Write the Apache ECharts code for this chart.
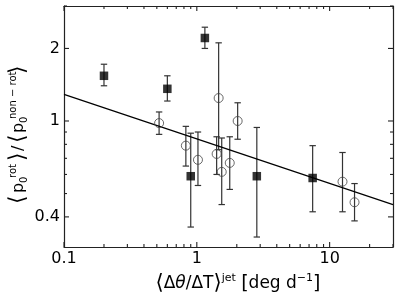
<!DOCTYPE html>
<html><head><meta charset="utf-8">
<script src="https://cdn.jsdelivr.net/npm/echarts@6/dist/echarts.min.js"></script>
<style>html,body{margin:0;padding:0;background:#fff}#c{width:399px;height:301px}</style>
</head><body><div id="c"></div>
<script>
// Filled squares
const sqX  = [0.2, 0.6, 1.15, 0.9, 2.83, 7.45];
const sqY  = [1.54, 1.36, 2.21, 0.59, 0.59, 0.58];
const sqLo = [1.40, 1.21, 2.0, 0.363, 0.33, 0.42];
const sqHi = [1.72, 1.54, 2.45, 0.89, 0.94, 0.79];
// Open circles
const ciX  = [0.52, 0.827, 1.02, 1.41, 1.46, 1.54, 1.77, 2.03, 12.5, 15.4];
const ciY  = [0.98, 0.79, 0.69, 0.73, 1.245, 0.615, 0.67, 1.0, 0.56, 0.46];
const ciLo = [0.88, 0.65, 0.54, 0.60, 0.76, 0.45, 0.52, 0.84, 0.42, 0.385];
const ciHi = [1.09, 0.95, 0.90, 0.86, 2.11, 0.85, 0.86, 1.19, 0.74, 0.55];
// Fit line
const fitX = [0.1, 30];
const fitY = [1.29, 0.45];
// Ticks and tick labels
const xMajor = [0.1, 1, 10];
const xMinor = [0.2,0.3,0.4,0.5,0.6,0.7,0.8,0.9,2,3,4,5,6,7,8,9,20,30];
const yMajor = [0.4, 1, 2];
const yMinor = [0.5,0.6,0.7,0.8,0.9,3];

const FONT = 'DejaVu Sans';
const LINE = {show:true, onZero:false, lineStyle:{color:'#222', width:1.2}};
const fmt = v => String(+(+v).toPrecision(3));
function xAx(pos, labels){
  return {type:'log', min:0.1, max:30, position:pos, axisLine:LINE, splitLine:{show:false}, axisTick:{show:false},
    axisLabel:{show:!!labels, customValues:labels || xMajor, margin:4, fontFamily:FONT, fontSize:16, color:'#000', formatter:fmt}};
}
function yAx(pos, labels){
  return {type:'log', min:0.3, max:3, position:pos, axisLine:LINE, splitLine:{show:false}, axisTick:{show:false},
    axisLabel:{show:!!labels, customValues:labels || yMajor, margin:4, fontFamily:FONT, fontSize:16, color:'#000', formatter:fmt}};
}

function errItem(params, api){
  const x = api.value(0), lo = api.value(1), hi = api.value(2);
  const a = api.coord([x, lo]), b = api.coord([x, hi]);
  const w = 3.2, st = {stroke:'#333', lineWidth:1.2};
  return {type:'group', children:[
    {type:'line', shape:{x1:a[0],y1:a[1],x2:b[0],y2:b[1]}, style:st},
    {type:'line', shape:{x1:a[0]-w,y1:a[1],x2:a[0]+w,y2:a[1]}, style:st},
    {type:'line', shape:{x1:b[0]-w,y1:b[1],x2:b[0]+w,y2:b[1]}, style:st}
  ]};
}
// inward ticks on all four sides, positioned via the axes' scales
const tst = {stroke:'#222', lineWidth:1.1};
function xTick(len){
  return function(params, api){
    const v = api.value(0);
    const b = api.coord([v, 0.3]), t = api.coord([v, 3]);
    return {type:'group', children:[
      {type:'line', shape:{x1:b[0], y1:b[1], x2:b[0], y2:b[1]-len}, style:tst},
      {type:'line', shape:{x1:t[0], y1:t[1], x2:t[0], y2:t[1]+len}, style:tst}]};
  };
}
function yTick(len){
  return function(params, api){
    const v = api.value(1);
    const l = api.coord([0.1, v]), r = api.coord([30, v]);
    return {type:'group', children:[
      {type:'line', shape:{x1:l[0], y1:l[1], x2:l[0]+len, y2:l[1]}, style:tst},
      {type:'line', shape:{x1:r[0], y1:r[1], x2:r[0]-len, y2:r[1]}, style:tst}]};
  };
}
function tickSeries(render, data){
  return {type:'custom', xAxisIndex:0, yAxisIndex:0, renderItem:render, encode:{x:0, y:1},
    silent:true, z:6, data:data};
}

const chart = echarts.init(document.getElementById('c'), null, {renderer:'canvas'});
const yl = [
  {t:'⟨', x:-1, y:-6, f:22},
  {t:'p', x:10, y:-5, f:16},
  {t:'0', x:20, y:0, f:10},
  {t:'rot', x:25, y:-11, f:10},
  {t:'⟩', x:42, y:-6, f:22},
  {t:'/', x:52, y:-5, f:16},
  {t:'⟨', x:60, y:-6, f:22},
  {t:'p', x:70, y:-5, f:16},
  {t:'0', x:80, y:0, f:10},
  {t:'non − rot', x:84, y:-11, f:10},
  {t:'⟩', x:129, y:-6, f:22}
];
chart.setOption({
  animation:false,
  grid:{left:64, right:6, top:6, bottom:54},
  xAxis:[xAx('bottom', xMajor), xAx('top', null)],
  yAxis:[yAx('left', yMajor), yAx('right', null)],
  graphic:[
    {type:'group', x:24, y:203, rotation:Math.PI/2, children: yl.map(e=>({type:'text', x:e.x, y:e.y,
      style:{text:e.t, fontFamily:FONT, fontSize:e.f, fill:'#000', align:'left', verticalAlign:'middle'}}))},
    {type:'text', x:238, y:284, style:{
      text:'{b|⟨}{m|Δ}{i|θ}{m|/ΔT}{b|⟩}{s|jet}{m| }{k|[}{m|deg d}{s|−1}{k|]}',
      align:'center', verticalAlign:'middle', fill:'#000',
      rich:{
        b:{fontFamily:FONT, fontSize:21, lineHeight:22, verticalAlign:'middle'},
        k:{fontFamily:FONT, fontSize:19, lineHeight:22, verticalAlign:'middle'},
        m:{fontFamily:FONT, fontSize:17, lineHeight:22, verticalAlign:'middle'},
        i:{fontFamily:FONT, fontSize:17, fontStyle:'italic', lineHeight:22, verticalAlign:'middle'},
        s:{fontFamily:FONT, fontSize:11, lineHeight:14, verticalAlign:'top'}
      }}}
  ],
  series:[
    tickSeries(xTick(5), xMajor.map(v=>[v, 1])),
    tickSeries(xTick(3), xMinor.map(v=>[v, 1])),
    tickSeries(yTick(5), yMajor.map(v=>[1, v])),
    tickSeries(yTick(3), yMinor.map(v=>[1, v])),
    {type:'custom', xAxisIndex:0, yAxisIndex:0, renderItem:errItem, encode:{x:0, y:[1,2]},
      data: sqX.map((x,i)=>[x, sqLo[i], sqHi[i]]), z:2},
    {type:'custom', xAxisIndex:0, yAxisIndex:0, renderItem:errItem, encode:{x:0, y:[1,2]},
      data: ciX.map((x,i)=>[x, ciLo[i], ciHi[i]]), z:2},
    {type:'line', xAxisIndex:0, yAxisIndex:0, data: fitX.map((x,i)=>[x, fitY[i]]), symbol:'none',
      lineStyle:{color:'#000', width:1.2}, z:3},
    {type:'scatter', xAxisIndex:0, yAxisIndex:0, data: ciX.map((x,i)=>[x, ciY[i]]), symbol:'circle', symbolSize:9,
      itemStyle:{color:'rgba(255,255,255,0)', borderColor:'#444', borderWidth:1}, z:4},
    {type:'scatter', xAxisIndex:0, yAxisIndex:0, data: sqX.map((x,i)=>[x, sqY[i]]), symbol:'rect', symbolSize:8.5,
      itemStyle:{color:'#000'}, z:5}
  ]
});
</script></body></html>
